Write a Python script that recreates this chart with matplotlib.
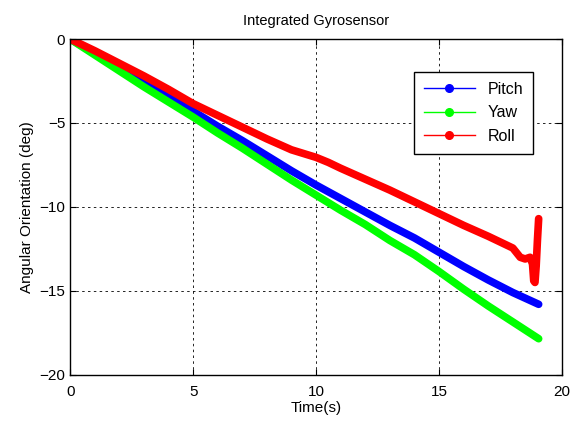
import numpy as np
import matplotlib
matplotlib.use("Agg")
import matplotlib.pyplot as plt
from matplotlib.lines import Line2D

plt.rcParams['font.family'] = ['Liberation Sans', 'DejaVu Sans']

# values
t = [0, 1, 2, 3, 4, 5, 6, 7, 8, 9, 10, 11, 12, 13, 14, 15, 16, 17, 18, 19.05]
pitch = [0, -0.85, -1.75, -2.6, -3.45, -4.3, -5.2, -6.05, -6.95, -7.85, -8.7,
         -9.5, -10.3, -11.1, -11.85, -12.7, -13.55, -14.35, -15.1, -15.8]
yaw = [0, -0.95, -1.9, -2.85, -3.75, -4.65, -5.6, -6.5, -7.45, -8.4, -9.3,
       -10.2, -11.05, -12.0, -12.85, -13.85, -14.9, -15.9, -16.85, -17.85]

t_roll = [0, 1, 2, 3, 4, 5, 6, 7, 8, 9, 10, 10.5, 11, 12, 13, 14, 15, 16, 17,
          18, 18.3, 18.5, 18.7, 18.8, 18.85, 18.9, 18.95, 19.0, 19.05]
roll = [0, -0.7, -1.45, -2.2, -3.0, -3.85, -4.55, -5.25, -5.95, -6.6, -7.05, -7.35,
        -7.7, -8.35, -9.0, -9.7, -10.4, -11.1, -11.75, -12.45, -13.0, -13.1,
        -13.0, -13.4, -14.4, -14.5, -13.5, -12.0, -10.7]

fig = plt.figure(figsize=(5.8, 4.24), dpi=100)
ax = fig.add_axes([0.121, 0.116, 0.848, 0.792])

lw = 5.5
ax.plot(t, pitch, color='#0000ff', lw=lw, solid_capstyle='round', solid_joinstyle='round')
ax.plot(t, yaw, color='#00ff00', lw=lw, solid_capstyle='round', solid_joinstyle='round')
ax.plot(t_roll, roll, color='#ff0000', lw=lw, solid_capstyle='round', solid_joinstyle='round')

ax.set_xlim(0, 20)
ax.set_ylim(-20, 0)
ax.set_xticks([0, 5, 10, 15, 20])
ax.set_yticks([-20, -15, -10, -5, 0])
ax.grid(True, color='black', linestyle=(0, (3, 4)), linewidth=0.6)
ax.tick_params(direction='in', top=True, right=True, length=4, labelsize=11)
ax.tick_params(axis='x', pad=7)
for s in ax.spines.values():
    s.set_linewidth(1.0)

ax.set_title('Integrated Gyrosensor', fontsize=10.5, pad=10)
ax.set_xlabel('Time(s)', fontsize=11, labelpad=2)
ax.set_ylabel('Angular Orientation (deg)', fontsize=11)

handles = [
    Line2D([], [], color='#0000ff', lw=1, marker='.', markersize=11),
    Line2D([], [], color='#00ff00', lw=1, marker='.', markersize=11),
    Line2D([], [], color='#ff0000', lw=1, marker='.', markersize=11),
]
leg = ax.legend(handles, ['Pitch', 'Yaw', 'Roll'], loc='upper right',
                bbox_to_anchor=(0.941, 0.902), borderaxespad=0,
                fontsize=11.5, fancybox=False,
                framealpha=1, edgecolor='black', handlelength=3.2,
                borderpad=0.6, labelspacing=0.55, numpoints=1)
leg.get_frame().set_linewidth(1.0)

fig.savefig('out.png', dpi=100)
